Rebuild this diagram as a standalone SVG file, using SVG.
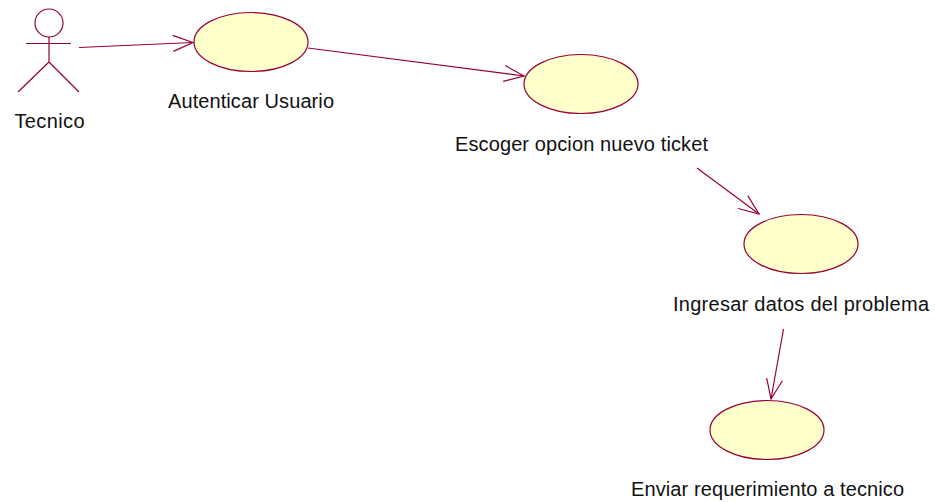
<svg xmlns="http://www.w3.org/2000/svg" width="935" height="502" viewBox="0 0 935 502">
<style>
.n{fill:#ffffcc;stroke:#990033;stroke-width:1.2}
.l{fill:none;stroke:#990033;stroke-width:1.2}
text{font-family:"Liberation Sans",Arial,sans-serif;font-size:20px;fill:#111}
</style>
<defs><marker id="a" viewBox="-21 -9 22 18" refX="0" refY="0" markerWidth="22" markerHeight="18" markerUnits="userSpaceOnUse" orient="auto"><path d="M-20,-8 L0,0 L-20,8" class="l"/></marker></defs>
<rect width="935" height="502" fill="#fff"/>
<g id="connectors">
<path class="l" marker-end="url(#a)" d="M79,47.500 L193,42.500"/>
<path class="l" marker-end="url(#a)" d="M308,48 L524,76"/>
<path class="l" marker-end="url(#a)" d="M697,168 L759,214"/>
<path class="l" marker-end="url(#a)" d="M783.500,329 L771,399"/>
</g>
<g id="actor-tecnico">
<circle cx="49" cy="23" r="14" fill="#fff" stroke="#990033" stroke-width="1.2"/>
<path class="l" d="M26,43.500 H71 M49,37 V62 M49,62 L18,92 M49,62 L79,92"/>
<text x="49.500" y="128" text-anchor="middle" textLength="70" lengthAdjust="spacing">Tecnico</text>
</g>
<g id="uc-autenticar">
<ellipse class="n" cx="251" cy="42" rx="57" ry="29.500"/>
<text x="251" y="108" text-anchor="middle" textLength="166" lengthAdjust="spacing">Autenticar Usuario</text>
</g>
<g id="uc-escoger">
<ellipse class="n" cx="581" cy="84" rx="57" ry="29.500"/>
<text x="581.500" y="151" text-anchor="middle" textLength="253" lengthAdjust="spacing">Escoger opcion nuevo ticket</text>
</g>
<g id="uc-ingresar">
<ellipse class="n" cx="801" cy="244" rx="57" ry="29.500"/>
<text x="801" y="311" text-anchor="middle" textLength="256" lengthAdjust="spacing">Ingresar datos del problema</text>
</g>
<g id="uc-enviar">
<ellipse class="n" cx="767" cy="430" rx="57" ry="29.500"/>
<text x="767.500" y="496" text-anchor="middle" textLength="273" lengthAdjust="spacing">Enviar requerimiento a tecnico</text>
</g>
</svg>
